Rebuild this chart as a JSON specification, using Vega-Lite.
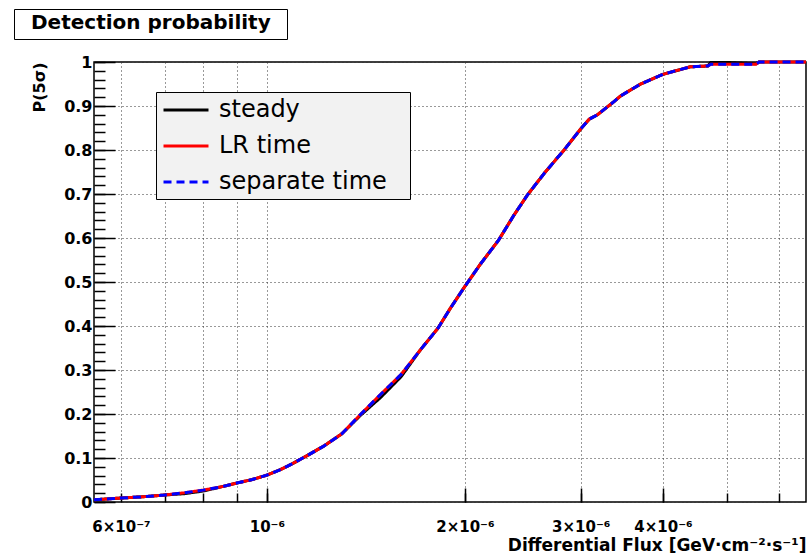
{
  "$schema": "https://vega.github.io/schema/vega-lite/v6.json",
  "background": "white",
  "padding": {"left": 13, "top": 8, "right": 4, "bottom": 0},
  "width": 712,
  "height": 440,
  "config": {
    "font": "DejaVu Sans",
    "view": {"stroke": "black", "strokeWidth": 1.5}
  },
  "data": {
    "values": [
      {"series": "steady", "flux": 5.46e-7, "p": 0.005},
      {"series": "steady", "flux": 6.0e-7, "p": 0.009},
      {"series": "steady", "flux": 6.5e-7, "p": 0.012},
      {"series": "steady", "flux": 7.0e-7, "p": 0.016},
      {"series": "steady", "flux": 7.5e-7, "p": 0.019},
      {"series": "steady", "flux": 8.0e-7, "p": 0.025},
      {"series": "steady", "flux": 8.5e-7, "p": 0.034},
      {"series": "steady", "flux": 9.0e-7, "p": 0.043},
      {"series": "steady", "flux": 9.5e-7, "p": 0.051},
      {"series": "steady", "flux": 1.0e-6, "p": 0.061},
      {"series": "steady", "flux": 1.05e-6, "p": 0.074},
      {"series": "steady", "flux": 1.09e-6, "p": 0.086},
      {"series": "steady", "flux": 1.15e-6, "p": 0.105},
      {"series": "steady", "flux": 1.22e-6, "p": 0.127},
      {"series": "steady", "flux": 1.3e-6, "p": 0.155},
      {"series": "steady", "flux": 1.39e-6, "p": 0.198},
      {"series": "steady", "flux": 1.49e-6, "p": 0.238},
      {"series": "steady", "flux": 1.6e-6, "p": 0.285},
      {"series": "steady", "flux": 1.71e-6, "p": 0.345},
      {"series": "steady", "flux": 1.82e-6, "p": 0.395},
      {"series": "steady", "flux": 1.9e-6, "p": 0.44},
      {"series": "steady", "flux": 2.0e-6, "p": 0.49},
      {"series": "steady", "flux": 2.11e-6, "p": 0.54},
      {"series": "steady", "flux": 2.25e-6, "p": 0.595},
      {"series": "steady", "flux": 2.37e-6, "p": 0.65},
      {"series": "steady", "flux": 2.49e-6, "p": 0.698},
      {"series": "steady", "flux": 2.65e-6, "p": 0.75},
      {"series": "steady", "flux": 2.83e-6, "p": 0.8},
      {"series": "steady", "flux": 3.0e-6, "p": 0.848},
      {"series": "steady", "flux": 3.09e-6, "p": 0.87},
      {"series": "steady", "flux": 3.18e-6, "p": 0.88},
      {"series": "steady", "flux": 3.37e-6, "p": 0.91},
      {"series": "steady", "flux": 3.45e-6, "p": 0.923},
      {"series": "steady", "flux": 3.7e-6, "p": 0.95},
      {"series": "steady", "flux": 4.0e-6, "p": 0.972},
      {"series": "steady", "flux": 4.4e-6, "p": 0.989},
      {"series": "steady", "flux": 4.68e-6, "p": 0.991},
      {"series": "steady", "flux": 4.73e-6, "p": 0.999},
      {"series": "steady", "flux": 5.0e-6, "p": 0.999},
      {"series": "steady", "flux": 5.54e-6, "p": 0.996},
      {"series": "steady", "flux": 5.6e-6, "p": 1.0},
      {"series": "steady", "flux": 6.6e-6, "p": 1.0},

      {"series": "LR time", "flux": 5.46e-7, "p": 0.005},
      {"series": "LR time", "flux": 6.0e-7, "p": 0.009},
      {"series": "LR time", "flux": 6.5e-7, "p": 0.012},
      {"series": "LR time", "flux": 7.0e-7, "p": 0.016},
      {"series": "LR time", "flux": 7.5e-7, "p": 0.021},
      {"series": "LR time", "flux": 8.0e-7, "p": 0.027},
      {"series": "LR time", "flux": 8.5e-7, "p": 0.034},
      {"series": "LR time", "flux": 9.0e-7, "p": 0.043},
      {"series": "LR time", "flux": 9.5e-7, "p": 0.051},
      {"series": "LR time", "flux": 1.0e-6, "p": 0.061},
      {"series": "LR time", "flux": 1.05e-6, "p": 0.074},
      {"series": "LR time", "flux": 1.09e-6, "p": 0.086},
      {"series": "LR time", "flux": 1.15e-6, "p": 0.105},
      {"series": "LR time", "flux": 1.22e-6, "p": 0.127},
      {"series": "LR time", "flux": 1.3e-6, "p": 0.155},
      {"series": "LR time", "flux": 1.39e-6, "p": 0.2},
      {"series": "LR time", "flux": 1.49e-6, "p": 0.245},
      {"series": "LR time", "flux": 1.6e-6, "p": 0.29},
      {"series": "LR time", "flux": 1.71e-6, "p": 0.345},
      {"series": "LR time", "flux": 1.82e-6, "p": 0.395},
      {"series": "LR time", "flux": 1.9e-6, "p": 0.44},
      {"series": "LR time", "flux": 2.0e-6, "p": 0.49},
      {"series": "LR time", "flux": 2.11e-6, "p": 0.54},
      {"series": "LR time", "flux": 2.25e-6, "p": 0.595},
      {"series": "LR time", "flux": 2.37e-6, "p": 0.65},
      {"series": "LR time", "flux": 2.49e-6, "p": 0.698},
      {"series": "LR time", "flux": 2.65e-6, "p": 0.75},
      {"series": "LR time", "flux": 2.83e-6, "p": 0.8},
      {"series": "LR time", "flux": 3.0e-6, "p": 0.848},
      {"series": "LR time", "flux": 3.09e-6, "p": 0.87},
      {"series": "LR time", "flux": 3.18e-6, "p": 0.88},
      {"series": "LR time", "flux": 3.37e-6, "p": 0.91},
      {"series": "LR time", "flux": 3.45e-6, "p": 0.923},
      {"series": "LR time", "flux": 3.7e-6, "p": 0.95},
      {"series": "LR time", "flux": 4.0e-6, "p": 0.972},
      {"series": "LR time", "flux": 4.4e-6, "p": 0.989},
      {"series": "LR time", "flux": 4.68e-6, "p": 0.991},
      {"series": "LR time", "flux": 4.73e-6, "p": 0.995},
      {"series": "LR time", "flux": 5.54e-6, "p": 0.995},
      {"series": "LR time", "flux": 5.6e-6, "p": 1.0},
      {"series": "LR time", "flux": 6.6e-6, "p": 1.0},

      {"series": "separate time", "flux": 5.46e-7, "p": 0.005},
      {"series": "separate time", "flux": 6.0e-7, "p": 0.009},
      {"series": "separate time", "flux": 6.5e-7, "p": 0.012},
      {"series": "separate time", "flux": 7.0e-7, "p": 0.016},
      {"series": "separate time", "flux": 7.5e-7, "p": 0.021},
      {"series": "separate time", "flux": 8.0e-7, "p": 0.027},
      {"series": "separate time", "flux": 8.5e-7, "p": 0.034},
      {"series": "separate time", "flux": 9.0e-7, "p": 0.043},
      {"series": "separate time", "flux": 9.5e-7, "p": 0.051},
      {"series": "separate time", "flux": 1.0e-6, "p": 0.061},
      {"series": "separate time", "flux": 1.05e-6, "p": 0.074},
      {"series": "separate time", "flux": 1.09e-6, "p": 0.086},
      {"series": "separate time", "flux": 1.15e-6, "p": 0.105},
      {"series": "separate time", "flux": 1.22e-6, "p": 0.127},
      {"series": "separate time", "flux": 1.3e-6, "p": 0.155},
      {"series": "separate time", "flux": 1.39e-6, "p": 0.2},
      {"series": "separate time", "flux": 1.49e-6, "p": 0.245},
      {"series": "separate time", "flux": 1.6e-6, "p": 0.29},
      {"series": "separate time", "flux": 1.71e-6, "p": 0.345},
      {"series": "separate time", "flux": 1.82e-6, "p": 0.395},
      {"series": "separate time", "flux": 1.9e-6, "p": 0.44},
      {"series": "separate time", "flux": 2.0e-6, "p": 0.49},
      {"series": "separate time", "flux": 2.11e-6, "p": 0.54},
      {"series": "separate time", "flux": 2.25e-6, "p": 0.595},
      {"series": "separate time", "flux": 2.37e-6, "p": 0.65},
      {"series": "separate time", "flux": 2.49e-6, "p": 0.698},
      {"series": "separate time", "flux": 2.65e-6, "p": 0.75},
      {"series": "separate time", "flux": 2.83e-6, "p": 0.8},
      {"series": "separate time", "flux": 3.0e-6, "p": 0.848},
      {"series": "separate time", "flux": 3.09e-6, "p": 0.87},
      {"series": "separate time", "flux": 3.18e-6, "p": 0.88},
      {"series": "separate time", "flux": 3.37e-6, "p": 0.91},
      {"series": "separate time", "flux": 3.45e-6, "p": 0.923},
      {"series": "separate time", "flux": 3.7e-6, "p": 0.95},
      {"series": "separate time", "flux": 4.0e-6, "p": 0.972},
      {"series": "separate time", "flux": 4.4e-6, "p": 0.989},
      {"series": "separate time", "flux": 4.68e-6, "p": 0.991},
      {"series": "separate time", "flux": 4.73e-6, "p": 0.995},
      {"series": "separate time", "flux": 5.54e-6, "p": 0.995},
      {"series": "separate time", "flux": 5.6e-6, "p": 1.0},
      {"series": "separate time", "flux": 6.6e-6, "p": 1.0}
    ]
  },
  "resolve": {"axis": {"x": "independent", "y": "independent"}},
  "layer": [
    {
      "transform": [{"filter": "datum.series === 'steady'"}],
      "mark": {"type": "line", "strokeWidth": 3},
      "encoding": {
        "x": {
          "field": "flux", "type": "quantitative",
          "scale": {"type": "log", "domain": [5.46e-7, 6.6e-6], "nice": false},
          "axis": {
            "orient": "bottom",
            "values": [6e-7, 7e-7, 8e-7, 9e-7, 1e-6, 2e-6, 3e-6, 4e-6, 5e-6, 6e-6],
            "labelExpr": "round(datum.value*1e7) == 6 ? '6×10⁻⁷' : round(datum.value*1e7) == 10 ? '10⁻⁶' : round(datum.value*1e7) == 20 ? '2×10⁻⁶' : round(datum.value*1e7) == 30 ? '3×10⁻⁶' : round(datum.value*1e7) == 40 ? '4×10⁻⁶' : ''",
            "labelFont": "DejaVu Sans", "labelFontSize": 15, "labelFontWeight": "bold", "labelColor": "black",
            "labelFlush": false, "labelOverlap": false, "labelPadding": 26,
            "grid": true, "gridColor": "#333", "gridDash": [1, 3], "gridWidth": 1,
            "domain": false, "tickSize": -9, "tickColor": "black", "tickWidth": 1.5,
            "title": "Differential Flux [GeV·cm⁻²·s⁻¹]",
            "titleAnchor": "end", "titleFont": "DejaVu Sans", "titleFontSize": 17, "titleFontWeight": "bold",
            "titleColor": "black", "titlePadding": 3
          }
        },
        "y": {
          "field": "p", "type": "quantitative",
          "scale": {"domain": [0, 1], "nice": false},
          "axis": {
            "orient": "left",
            "values": [0, 0.1, 0.2, 0.3, 0.4, 0.5, 0.6, 0.7, 0.8, 0.9, 1],
            "format": ".1~f",
            "labelFont": "DejaVu Sans", "labelFontSize": 16, "labelFontWeight": "bold", "labelColor": "black",
            "labelFlush": false, "labelPadding": 23,
            "grid": true, "gridColor": "#333", "gridDash": [1, 3], "gridWidth": 1,
            "domain": false, "tickSize": -21, "tickColor": "black", "tickWidth": 1.5,
            "title": "P(5σ)", "titleAnchor": "end", "titleFont": "DejaVu Sans", "titleFontSize": 16,
            "titleFontWeight": "bold", "titleColor": "black", "titlePadding": 16
          }
        },
        "color": {
          "field": "series", "type": "nominal",
          "scale": {"domain": ["steady", "LR time", "separate time"], "range": ["#000000", "#ff0000", "#0000ff"]},
          "legend": {
            "title": null, "orient": "none", "legendX": 62, "legendY": 30, "zindex": 2,
            "fillColor": "#f2f2f2", "strokeColor": "black", "padding": 5,
            "symbolType": "M-2,0H2", "symbolSize": 506, "symbolStrokeWidth": 3, "symbolOffset": 12,
            "labelFont": "DejaVu Sans", "labelFontSize": 24, "labelColor": "black", "labelOffset": 20,
            "labelLimit": 400, "rowPadding": 11,
            "labelExpr": "datum.label + '\u2800'"
          }
        },
        "strokeDash": {
          "field": "series", "type": "nominal",
          "scale": {"domain": ["steady", "LR time", "separate time"], "range": [[1, 0], [1, 0], [8, 5]]},
          "legend": {
            "title": null, "orient": "none", "legendX": 62, "legendY": 30, "zindex": 2,
            "fillColor": "#f2f2f2", "strokeColor": "black", "padding": 5,
            "symbolType": "M-2,0H2", "symbolSize": 506, "symbolStrokeWidth": 3, "symbolOffset": 12,
            "labelFont": "DejaVu Sans", "labelFontSize": 24, "labelColor": "black", "labelOffset": 20,
            "labelLimit": 400, "rowPadding": 11,
            "labelExpr": "datum.label + '\u2800'"
          }
        }
      }
    },
    {
      "transform": [{"filter": "datum.series === 'LR time'"}],
      "mark": {"type": "line", "strokeWidth": 3},
      "encoding": {
        "x": {
          "field": "flux", "type": "quantitative",
          "axis": {
            "orient": "bottom", "values": [1e-6, 2e-6, 3e-6, 4e-6],
            "labels": false, "grid": false, "domain": false,
            "tickSize": -14, "tickColor": "black", "tickWidth": 1.5, "title": null
          }
        },
        "y": {
          "field": "p", "type": "quantitative",
          "axis": {
            "orient": "left",
            "values": [0, 0.02, 0.04, 0.06, 0.08, 0.1, 0.12, 0.14, 0.16, 0.18, 0.2, 0.22, 0.24, 0.26, 0.28, 0.3, 0.32, 0.34, 0.36, 0.38, 0.4, 0.42, 0.44, 0.46, 0.48, 0.5, 0.52, 0.54, 0.56, 0.58, 0.6, 0.62, 0.64, 0.66, 0.68, 0.7, 0.72, 0.74, 0.76, 0.78, 0.8, 0.82, 0.84, 0.86, 0.88, 0.9, 0.92, 0.94, 0.96, 0.98, 1],
            "labels": false, "grid": false, "domain": false,
            "tickSize": -11, "tickColor": "black", "tickWidth": 1.5, "title": null
          }
        },
        "color": {"field": "series", "type": "nominal"},
        "strokeDash": {"field": "series", "type": "nominal"}
      }
    },
    {
      "transform": [{"filter": "datum.series === 'separate time'"}],
      "mark": {"type": "line", "strokeWidth": 3},
      "encoding": {
        "x": {"field": "flux", "type": "quantitative", "axis": null},
        "y": {"field": "p", "type": "quantitative", "axis": null},
        "color": {"field": "series", "type": "nominal"},
        "strokeDash": {"field": "series", "type": "nominal"},
        "opacity": {
          "datum": "Detection probability", "type": "nominal",
          "scale": {"range": [1]},
          "legend": {
            "title": null, "orient": "none", "legendX": -80, "legendY": -53, "zindex": 2,
            "fillColor": "white", "strokeColor": "black", "padding": 0,
            "symbolType": "square", "symbolSize": 676,
            "symbolStrokeColor": "transparent", "symbolFillColor": "transparent", "symbolOffset": 0,
            "labelFont": "DejaVu Sans", "labelFontSize": 20, "labelFontWeight": "bold",
            "labelColor": "black", "labelOffset": -11, "labelLimit": 400,
            "labelExpr": "datum.label + '\u2800'"
          }
        }
      }
    }
  ]
}
